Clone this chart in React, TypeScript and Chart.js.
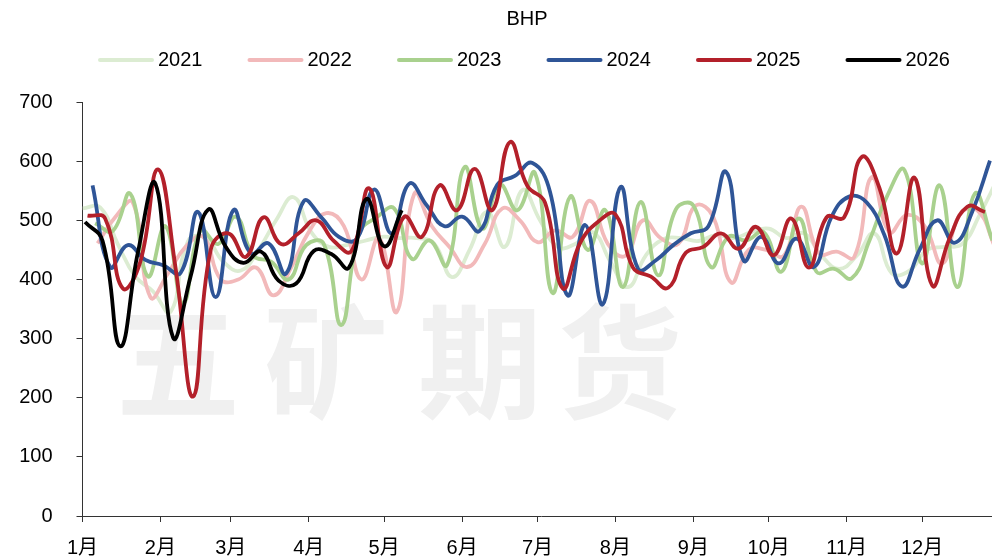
import React, { useEffect, useRef } from "react";
import { Chart, registerables } from "chart.js";

Chart.register(...registerables);

const TITLE = "BHP";
const WATERMARK = "五矿期货";
const SERIES_NAMES = ["2021", "2022", "2023", "2024", "2025", "2026"];
const MONTH_LABELS = ["1月", "2月", "3月", "4月", "5月", "6月", "7月", "8月", "9月", "10月", "11月", "12月"];
const MONTH_START_DAYS = [0, 31, 59, 90, 120, 151, 181, 212, 243, 273, 304, 334];
// day-of-year of the first weekly observation of each year
const FIRST_WEEK_DAY = [0, 6, 5, 4, 2, 1];
const Y_MIN = 0;
const Y_MAX = 700;
const Y_STEP = 100;

const V2021 = [520, 522, 460, 405, 380, 345, 465, 470, 430, 415, 450, 500, 539, 480, 455, 458, 465, 472, 470, 470, 460, 404, 450, 514, 455, 551, 500, 455, 460, 480, 430, 387, 440, 468, 470, 465, 475, 470, 480, 486, 470, 478, 440, 418, 440, 478, 410, 415, 450, 455, 460, 510, 570];
const V2022 = [461, 505, 530, 370, 410, 455, 472, 400, 400, 420, 373, 420, 480, 512, 490, 400, 470, 345, 545, 490, 455, 421, 460, 520, 500, 463, 483, 472, 533, 460, 440, 500, 470, 460, 525, 505, 395, 450, 450, 440, 523, 444, 447, 438, 573, 480, 509, 490, 427, 510, 517, 455];
const V2023 = [495, 482, 545, 405, 490, 360, 483, 460, 506, 440, 430, 400, 458, 460, 323, 478, 505, 520, 435, 466, 424, 590, 486, 560, 517, 580, 377, 540, 450, 517, 387, 531, 407, 518, 525, 421, 472, 466, 480, 413, 503, 413, 418, 402, 465, 540, 585, 427, 559, 387, 545, 466];
const V2024 = [559, 421, 458, 433, 424, 411, 514, 370, 517, 444, 461, 410, 532, 505, 472, 468, 552, 478, 562, 525, 490, 506, 482, 560, 575, 597, 548, 373, 492, 358, 556, 418, 432, 458, 478, 490, 582, 432, 472, 427, 469, 421, 506, 540, 530, 475, 388, 450, 500, 462, 515, 601];
const V2025 = [508, 503, 385, 430, 586, 420, 202, 450, 478, 438, 505, 460, 478, 500, 465, 448, 554, 421, 506, 472, 559, 517, 587, 517, 632, 558, 530, 385, 462, 497, 510, 420, 405, 386, 445, 455, 478, 452, 489, 441, 503, 420, 505, 505, 607, 555, 444, 572, 390, 470, 523, 514];
const V2026 = [497, 465, 287, 445, 562, 302, 405, 518, 455, 428, 447, 398, 393, 448, 443, 420, 536, 456, 517];

const SERIES_VALUES = [V2021, V2022, V2023, V2024, V2025, V2026];
const COLORS = ["#dcecd2", "#f2b9ba", "#a9d18e", "#2f5597", "#b3202a", "#000000"];

const FONT = '"Liberation Sans", "Noto Sans CJK SC", sans-serif';

const overlayPlugin = {
  id: "overlay",
  beforeDatasetsDraw(chart: any) {
    const ctx = chart.ctx;
    ctx.save();
    ctx.fillStyle = "#f0f0f0";
    ctx.font = 'bold 124px "Noto Sans CJK SC"';
    ctx.textAlign = "center";
    ctx.textBaseline = "middle";
    const chars = WATERMARK.split("");
    const xs = [178, 326, 480, 620];
    chars.forEach((ch: string, i: number) => ctx.fillText(ch, xs[i], 362));
    ctx.restore();
  },
  afterDraw(chart: any) {
    const ctx = chart.ctx;
    ctx.save();
    ctx.fillStyle = "#000";
    ctx.font = "20px " + FONT;
    ctx.textAlign = "center";
    ctx.textBaseline = "middle";
    ctx.fillText(TITLE, 527, 19);
    ctx.textAlign = "left";
    SERIES_NAMES.forEach((name, i) => {
      const x0 = 98 + i * 149.5;
      ctx.strokeStyle = COLORS[i];
      ctx.lineWidth = 4;
      ctx.lineCap = "round";
      ctx.beginPath();
      ctx.moveTo(x0 + 2, 60);
      ctx.lineTo(x0 + 54, 60);
      ctx.stroke();
      ctx.fillStyle = "#000";
      ctx.fillText(name, x0 + 60, 60);
    });
    ctx.restore();
  },
};

export default function App() {
  const ref = useRef<HTMLCanvasElement | null>(null);

  useEffect(() => {
    document.body.style.margin = "0";
    const canvas = ref.current;
    if (!canvas) return;
    const datasets = SERIES_NAMES.map((name, s) => ({
      label: name,
      data: SERIES_VALUES[s].map((v, i) => ({ x: FIRST_WEEK_DAY[s] + 7 * i, y: v })),
      borderColor: COLORS[s],
      backgroundColor: COLORS[s],
      borderWidth: 3.8,
      pointRadius: 0,
      tension: 0.45,
      fill: false,
      order: SERIES_NAMES.length - s,
    }));
    const chart = new Chart(canvas, {
      type: "line",
      data: { datasets },
      options: {
        animation: false,
        responsive: false,
        devicePixelRatio: 1,
        layout: { padding: { top: 102, left: 18, right: 0, bottom: 0 } },
        plugins: {
          legend: { display: false },
          title: { display: false },
          tooltip: { enabled: false },
        },
        scales: {
          x: {
            type: "linear",
            min: 0,
            max: 365,
            afterBuildTicks: (scale: any) => {
              scale.ticks = MONTH_START_DAYS.map((d) => ({ value: d }));
            },
            afterFit: (scale: any) => {
              scale.height = 42;
            },
            ticks: {
              autoSkip: false,
              maxRotation: 0,
              padding: 14,
              color: "#000",
              font: { family: FONT, size: 20 },
              callback: (value: any) => {
                const idx = MONTH_START_DAYS.indexOf(Number(value));
                return idx >= 0 ? MONTH_LABELS[idx] : "";
              },
            },
            grid: {
              display: true,
              drawOnChartArea: false,
              drawTicks: true,
              tickLength: 6,
              color: "#333",
            },
            border: { display: true, color: "#333", width: 1 },
          },
          y: {
            min: Y_MIN,
            max: Y_MAX,
            afterFit: (scale: any) => {
              scale.width = 64.5;
            },
            ticks: {
              stepSize: Y_STEP,
              padding: 24,
              color: "#000",
              font: { family: FONT, size: 20 },
            },
            grid: {
              display: true,
              drawOnChartArea: false,
              drawTicks: true,
              tickLength: 6,
              color: "#333",
            },
            border: { display: true, color: "#333", width: 1 },
          },
        },
      },
      plugins: [overlayPlugin],
    });
    return () => chart.destroy();
  }, []);

  return (
    <div style={{ position: "fixed", left: 0, top: 0, width: 992, height: 558, overflow: "hidden", background: "#fff" }}>
      <canvas ref={ref} width={1000} height={558} style={{ display: "block", width: 1000, height: 558 }} />
    </div>
  );
}
